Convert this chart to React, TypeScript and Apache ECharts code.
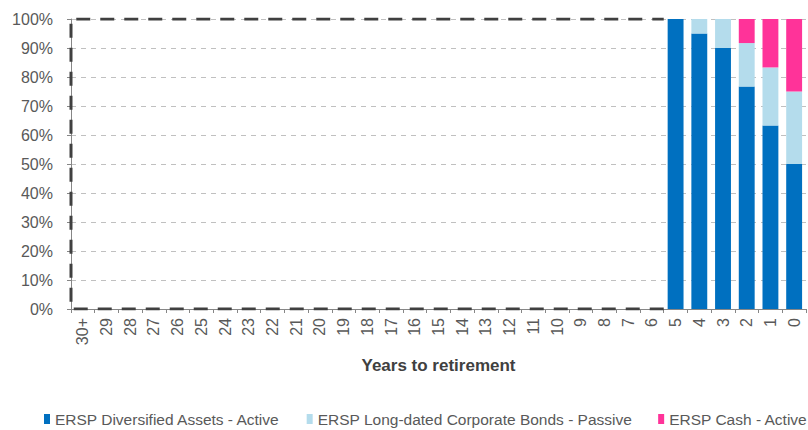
import React, { useEffect, useRef } from "react";
import * as echarts from "echarts";

const categories = ["30+", "29", "28", "27", "26", "25", "24", "23", "22", "21", "20", "19", "18", "17", "16", "15", "14", "13", "12", "11", "10", "9", "8", "7", "6", "5", "4", "3", "2", "1", "0"];
const diversified = [0, 0, 0, 0, 0, 0, 0, 0, 0, 0, 0, 0, 0, 0, 0, 0, 0, 0, 0, 0, 0, 0, 0, 0, 0, 100, 95, 90, 76.7, 63.3, 50];
const corporateBonds = [0, 0, 0, 0, 0, 0, 0, 0, 0, 0, 0, 0, 0, 0, 0, 0, 0, 0, 0, 0, 0, 0, 0, 0, 0, 0, 5, 10, 15, 20, 25];
const cash = [0, 0, 0, 0, 0, 0, 0, 0, 0, 0, 0, 0, 0, 0, 0, 0, 0, 0, 0, 0, 0, 0, 0, 0, 0, 0, 0, 0, 8.3, 16.7, 25];
// dashed outline of the earlier (undisclosed) glide-path years, in category-index / percent units
const outlineX = [24.5, -0.5, -0.5, 24.5];
const outlineY = [0, 0, 100, 100];
const yTicks = [0, 10, 20, 30, 40, 50, 60, 70, 80, 90, 100];

const seriesNames = [
  "ERSP Diversified Assets - Active",
  "ERSP Long-dated Corporate Bonds - Passive",
  "ERSP Cash - Active",
];
const colors = ["#0070c0", "#b4dcec", "#ff3399"];

export default function App() {
  const ref = useRef<HTMLDivElement>(null);
  useEffect(() => {
    if (!ref.current) return;
    const chart = echarts.init(ref.current, null, { renderer: "svg" });
    const font = "Liberation Sans, Arial, sans-serif";
    chart.setOption({
      animation: false,
      textStyle: { fontFamily: font },
      grid: { left: 71, right: 2, top: 19, bottom: 121, containLabel: false },
      legend: {
        left: 39,
        top: 406,
        width: 800,
        itemWidth: 6,
        itemHeight: 10,
        itemGap: 26,
        icon: "rect",
        textStyle: { color: "#595959", fontSize: 15.5, fontFamily: font },
        data: seriesNames,
      },
      xAxis: [
        {
          type: "category",
          data: categories,
          name: "Years to retirement",
          nameLocation: "middle",
          nameGap: 48,
          nameTextStyle: { color: "#404040", fontSize: 17, fontWeight: "bold", fontFamily: font },
          axisLine: { lineStyle: { color: "#868686", width: 1 } },
          axisTick: { show: true, alignWithLabel: false, length: 4, lineStyle: { color: "#868686" } },
          axisLabel: { rotate: 90, color: "#595959", fontSize: 16, margin: 9, interval: 0, fontFamily: font },
          splitLine: { show: false },
        },
        {
          type: "value",
          min: -0.5,
          max: categories.length - 0.5,
          show: false,
        },
      ],
      yAxis: {
        type: "value",
        min: yTicks[0],
        max: yTicks[yTicks.length - 1],
        interval: 10,
        axisLine: { show: true, onZero: false, lineStyle: { color: "#868686", width: 1 } },
        axisTick: { show: true, length: 4, lineStyle: { color: "#868686" } },
        axisLabel: { formatter: "{value}%", color: "#595959", fontSize: 16, margin: 18, fontFamily: font },
        splitLine: { show: true, lineStyle: { color: "#c0c0c0", type: [5, 5], width: 1 } },
      },
      series: [
        {
          name: seriesNames[0],
          type: "bar",
          stack: "total",
          data: diversified,
          barCategoryGap: "33%",
          itemStyle: { color: colors[0] },
        },
        {
          name: seriesNames[1],
          type: "bar",
          stack: "total",
          data: corporateBonds,
          itemStyle: { color: colors[1] },
        },
        {
          name: seriesNames[2],
          type: "bar",
          stack: "total",
          data: cash,
          itemStyle: { color: colors[2] },
        },
        {
          name: "outline",
          type: "line",
          xAxisIndex: 1,
          data: outlineX.map((x, i) => [x, outlineY[i]]),
          symbol: "none",
          silent: true,
          z: 5,
          lineStyle: { color: "#404040", width: 3, type: [14, 10] },
        },
      ],
    });
    return () => chart.dispose();
  }, []);
  return <div ref={ref} style={{ width: 808, height: 430, position: "absolute", left: 0, top: 0 }} />;
}
